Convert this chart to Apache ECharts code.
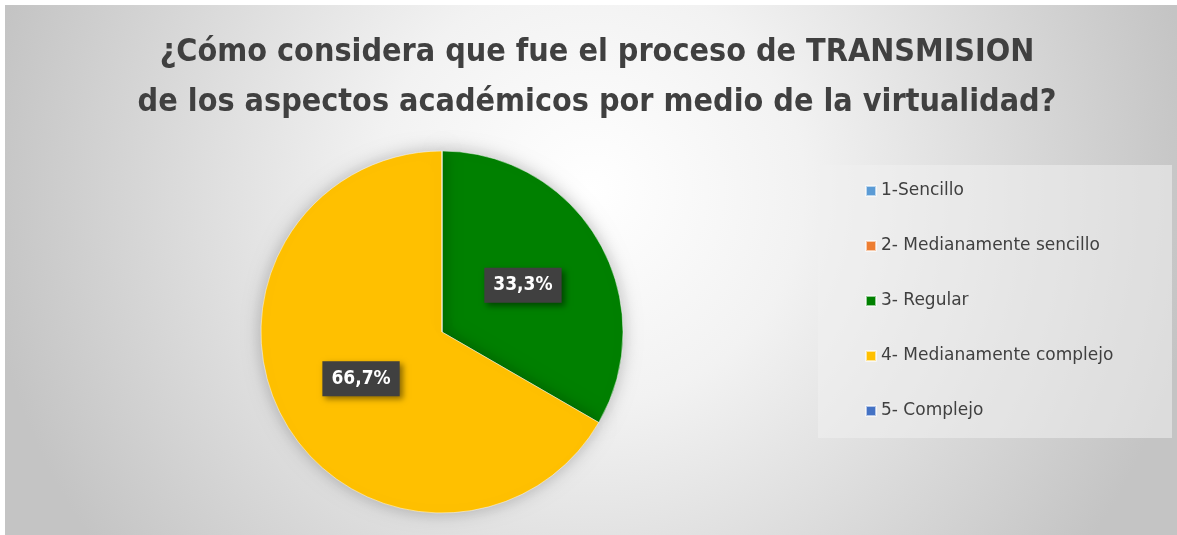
<!DOCTYPE html>
<html>
<head>
<meta charset="utf-8">
<script src="https://cdn.jsdelivr.net/npm/echarts@6/dist/echarts.min.js"></script>
<style>
  html, body { margin: 0; padding: 0; background: #fff; }
  #chart { width: 1177px; height: 535px; }
</style>
</head>
<body>
<div id="chart"></div>
<script>
// datos de la encuesta
var categories = ['1-Sencillo', '2- Medianamente sencillo', '3- Regular', '4- Medianamente complejo', '5- Complejo'];
var values = [0, 0, 1, 2, 0];
var colors = ['#5B9BD5', '#ED7D31', '#008000', '#FFC000', '#4472C4'];
var titleText = '¿Cómo considera que fue el proceso de TRANSMISION\nde los aspectos académicos por medio de la virtualidad?';

var font = '"Liberation Sans Narrow", "DejaVu Sans Condensed", "Open Sans", sans-serif';

var chart = echarts.init(document.getElementById('chart'));

var pieData = categories.map(function (name, i) {
  return {
    name: name,
    value: values[i],
    itemStyle: { color: colors[i] },
    label: { show: values[i] > 0 }
  };
});

chart.setOption({
  animation: false,
  graphic: [
    {
      // fondo del grafico
      type: 'rect',
      z: -10,
      shape: { x: 5, y: 5, width: 1172, height: 530 },
      style: {
        fill: {
          type: 'radial', x: 0.5, y: 0.35, r: 1.15,
          colorStops: [
            { offset: 0, color: '#ffffff' },
            { offset: 0.35, color: '#f2f2f2' },
            { offset: 1, color: '#c4c4c4' }
          ]
        }
      }
    },
    {
      // caja de la leyenda
      type: 'rect',
      z: -5,
      shape: { x: 818, y: 165, width: 354, height: 273 },
      style: { fill: 'rgba(240,240,240,0.55)' }
    }
  ],
  title: {
    text: titleText,
    left: 592,
    top: 23,
    textAlign: 'center',
    textStyle: {
      fontFamily: font,
      fontSize: 32,
      fontWeight: 'bold',
      color: '#404040',
      lineHeight: 50
    }
  },
  legend: {
    orient: 'vertical',
    left: 860,
    top: 176,
    itemWidth: 10,
    itemHeight: 10,
    itemGap: 35,
    icon: 'rect',
    selectedMode: false,
    data: categories,
    textStyle: {
      fontFamily: '"DejaVu Sans", sans-serif',
      fontSize: 17,
      lineHeight: 20,
      color: '#404040'
    }
  },
  series: [
    {
      type: 'pie',
      center: [442, 332],
      radius: 181,
      startAngle: 90,
      clockwise: true,
      data: pieData,
      itemStyle: {
        borderColor: 'rgba(255,255,255,0.6)',
        borderWidth: 0.8,
        shadowBlur: 18,
        shadowColor: 'rgba(0,0,0,0.25)'
      },
      label: {
        position: 'inside',
        formatter: function (p) {
          return p.percent.toFixed(1).replace('.', ',') + '%';
        },
        fontFamily: font,
        fontSize: 19,
        fontWeight: 'bold',
        color: '#ffffff',
        backgroundColor: '#404040',
        padding: [9, 9, 7, 9],
        shadowBlur: 6,
        shadowOffsetX: 3,
        shadowOffsetY: 3,
        shadowColor: 'rgba(0,0,0,0.45)'
      },
      labelLine: { show: false },
      emphasis: { disabled: true }
    }
  ]
});
</script>
</body>
</html>
